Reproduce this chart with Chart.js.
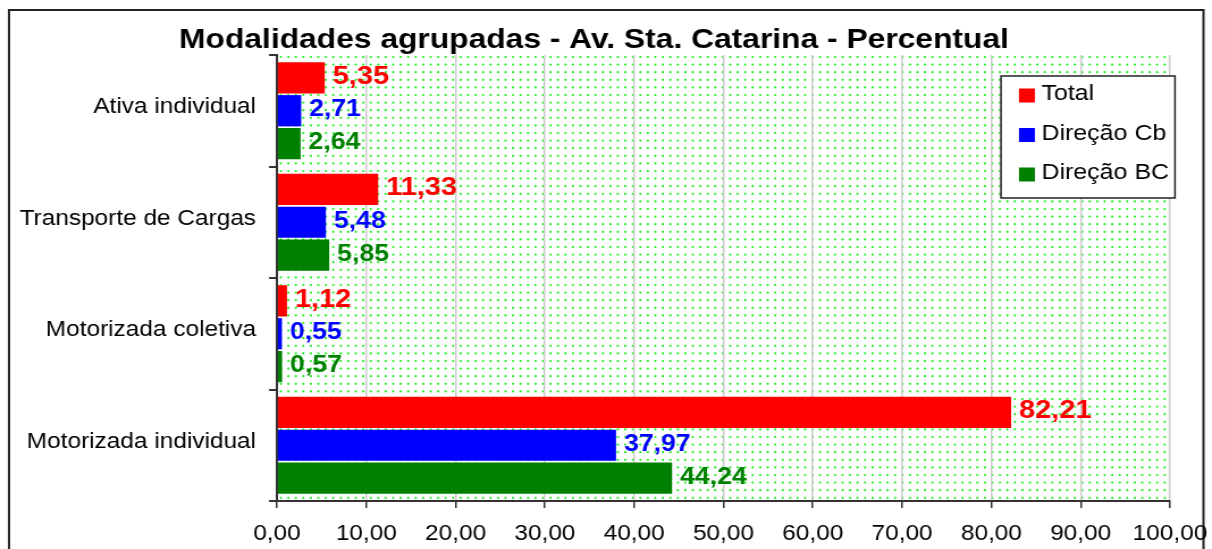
<!DOCTYPE html>
<html>
<head>
<meta charset="utf-8">
<title>Modalidades agrupadas</title>
<script src="https://cdn.jsdelivr.net/npm/chart.js@4.4.1/dist/chart.umd.min.js"></script>
<style>
  html, body { margin: 0; padding: 0; background: #fff; overflow: hidden; }
  /* the reference is a horizontally stretched Excel export, so stretch the canvas the same way */
  #chart { display: block; transform: scaleX(1.1348); transform-origin: 0 0; }
</style>
</head>
<body>
<canvas id="chart" width="1068" height="549"></canvas>
<script>
const chartTitle = 'Modalidades agrupadas - Av. Sta. Catarina - Percentual';
const categories = ['Ativa individual', 'Transporte de Cargas', 'Motorizada coletiva', 'Motorizada individual'];
const seriesNames = ['Total', 'Direção Cb', 'Direção BC'];
const totalValues = [5.35, 11.33, 1.12, 82.21];
const cbValues = [2.71, 5.48, 0.55, 37.97];
const bcValues = [2.64, 5.85, 0.57, 44.24];
const xTicks = [0, 10, 20, 30, 40, 50, 60, 70, 80, 90, 100];

const SX = 1212 / 1068;
const ix = px => px / SX;   // image px -> canvas px (horizontal only)
const FONT = "'Liberation Sans', Arial, sans-serif";
const fmt = v => v.toFixed(2).replace('.', ',');

function dotPattern(ctx) {
  const tile = document.createElement('canvas');
  tile.width = 33;
  tile.height = 38;
  const t = tile.getContext('2d');
  t.fillStyle = '#22f022';
  for (let i = 0; i < 5; i++) {
    for (let j = 0; j < 5; j++) {
      t.beginPath();
      t.arc(3.3 + i * 6.6, 3.8 + j * 7.6, 1.1, 0, Math.PI * 2);
      t.fill();
    }
  }
  return ctx.createPattern(tile, 'repeat');
}

// white page, outer frame, dotted plot area and the title
const frame = {
  id: 'frame',
  beforeDraw(chart) {
    const {ctx, chartArea: a} = chart;
    ctx.save();
    ctx.fillStyle = '#fff';
    ctx.fillRect(0, 0, chart.width, chart.height);
    ctx.fillStyle = dotPattern(ctx);
    ctx.fillRect(a.left, a.top, a.right - a.left, a.bottom - a.top);
    ctx.strokeStyle = '#222';
    ctx.lineWidth = 2;
    ctx.strokeRect(ix(9), 10, ix(1203.5) - ix(9), 600);
    ctx.font = `bold 28px ${FONT}`;
    ctx.fillStyle = '#000';
    ctx.textAlign = 'center';
    ctx.textBaseline = 'alphabetic';
    ctx.fillText(chartTitle, ix(594), 48);
    ctx.restore();
  }
};

// value at the end of each bar
const valueLabels = {
  id: 'valueLabels',
  afterDatasetsDraw(chart) {
    const ctx = chart.ctx;
    chart.data.datasets.forEach((ds, i) => {
      const meta = chart.getDatasetMeta(i);
      ctx.save();
      ctx.font = `bold ${ds.labelSize}px ${FONT}`;
      ctx.fillStyle = ds.backgroundColor;
      ctx.textAlign = 'left';
      ctx.textBaseline = 'middle';
      meta.data.forEach((bar, j) => {
        ctx.fillText(fmt(ds.data[j]), bar.x + 7, bar.y - 1);
      });
      ctx.restore();
    });
  }
};

// boxed legend inside the plot, top right
const boxLegend = {
  id: 'boxLegend',
  afterDraw(chart) {
    const ctx = chart.ctx;
    const x0 = ix(1001), x1 = ix(1175), y0 = 76, y1 = 198;
    ctx.save();
    ctx.fillStyle = '#fff';
    ctx.fillRect(x0, y0, x1 - x0, y1 - y0);
    ctx.strokeStyle = '#222';
    ctx.lineWidth = 1.5;
    ctx.strokeRect(x0, y0, x1 - x0, y1 - y0);
    ctx.font = `22px ${FONT}`;
    ctx.textAlign = 'left';
    ctx.textBaseline = 'middle';
    chart.data.datasets.forEach((ds, i) => {
      const cy = 95.5 + i * 39.5;
      ctx.fillStyle = ds.backgroundColor;
      ctx.fillRect(ix(1019), cy - 7, 14, 14);
      ctx.fillStyle = '#000';
      ctx.fillText(ds.label, ix(1041.5), cy - 1.5);
    });
    ctx.restore();
  }
};

new Chart(document.getElementById('chart'), {
  type: 'bar',
  data: {
    labels: categories,
    datasets: [
      {label: seriesNames[0], data: totalValues, backgroundColor: '#ff0000', labelSize: 25.5},
      {label: seriesNames[1], data: cbValues, backgroundColor: '#0000ff', labelSize: 23.5},
      {label: seriesNames[2], data: bcValues, backgroundColor: '#008000', labelSize: 23.5}
    ]
  },
  options: {
    indexAxis: 'y',
    responsive: false,
    animation: false,
    devicePixelRatio: 1,
    categoryPercentage: 0.885,
    barPercentage: 0.95,
    layout: {padding: {left: 0, top: 55, right: 37, bottom: 0}},
    plugins: {
      legend: {display: false},
      title: {display: false},
      tooltip: {enabled: false}
    },
    scales: {
      x: {
        min: 0,
        max: 100,
        afterFit(scale) {
          scale.height = 48;
          scale.paddingLeft = 0;
          scale.paddingRight = 0;
        },
        afterBuildTicks(scale) { scale.ticks = xTicks.map(v => ({value: v})); },
        grid: {color: '#cccccc', lineWidth: 1.5, tickColor: '#333', tickLength: 7},
        border: {color: '#333', width: 2},
        ticks: {
          color: '#000',
          font: {size: 21.5, family: FONT},
          padding: 13,
          maxRotation: 0,
          autoSkip: false,
          callback: v => fmt(v)
        }
      },
      y: {
        afterFit(scale) { scale.width = ix(277); },
        grid: {drawOnChartArea: false, offset: true, tickLength: 7, color: '#333', lineWidth: 2},
        border: {color: '#333', width: 2},
        ticks: {
          color: '#000',
          font: {size: 21.5, family: FONT},
          padding: 11.5,
          labelOffset: -3.5
        }
      }
    }
  },
  plugins: [frame, valueLabels, boxLegend]
});
</script>
</body>
</html>
